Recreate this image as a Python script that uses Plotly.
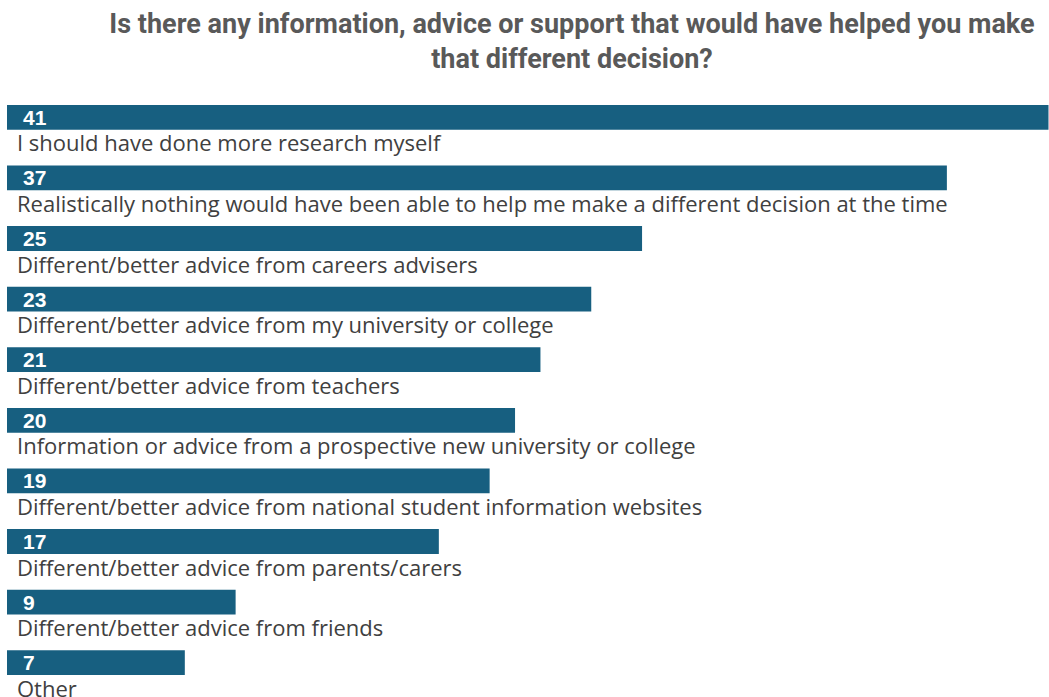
import plotly.graph_objects as go

# Survey responses, share of respondents (%)
categories = [
    "I should have done more research myself",
    "Realistically nothing would have been able to help me make a different decision at the time",
    "Different/better advice from careers advisers",
    "Different/better advice from my university or college",
    "Different/better advice from teachers",
    "Information or advice from a prospective new university or college",
    "Different/better advice from national student information websites",
    "Different/better advice from parents/carers",
    "Different/better advice from friends",
    "Other",
]
values = [41, 37, 25, 23, 21, 20, 19, 17, 9, 7]

BAR_COLOR = "#175f80"
TEXT_COLOR = "#404040"
TITLE_COLOR = "#595959"

fig = go.Figure(
    go.Bar(
        x=values,
        y=categories,
        orientation="h",
        marker=dict(color=BAR_COLOR, line=dict(width=0)),
        width=0.41,
        hoverinfo="skip",
    )
)

annotations = []
for cat, val in zip(categories, values):
    # value label inside the bar, near its start
    annotations.append(dict(
        x=0, y=cat, xref="x", yref="y", text=f"<b>{val}</b>",
        showarrow=False, xanchor="left", yanchor="middle", xshift=14, yshift=0,
        font=dict(family="Liberation Sans, Arial, sans-serif", size=21, color="white"),
    ))
    # category label underneath the bar
    annotations.append(dict(
        x=0, y=cat, xref="x", yref="y", text=cat,
        showarrow=False, xanchor="left", yanchor="middle", xshift=8, yshift=-25,
        font=dict(family="Open Sans, sans-serif", size=22, color=TEXT_COLOR),
    ))

fig.update_layout(
    width=1049,
    height=697,
    margin=dict(l=7, r=0, t=87, b=4),
    paper_bgcolor="white",
    plot_bgcolor="white",
    showlegend=False,
    title=dict(
        text="<b>Is there any information, advice or support that would have helped you make<br>that different decision?</b>",
        x=572 / 1049, xanchor="center", y=1 - 33 / 697, yanchor="middle",
        font=dict(family="Roboto, sans-serif", size=27, color=TITLE_COLOR),
    ),
    xaxis=dict(range=[0, 41.02], visible=False, fixedrange=True),
    yaxis=dict(
        categoryorder="array", categoryarray=categories,
        range=[9.5, -0.5], visible=False, fixedrange=True,
    ),
    annotations=annotations,
)

fig.write_html("out.html")
